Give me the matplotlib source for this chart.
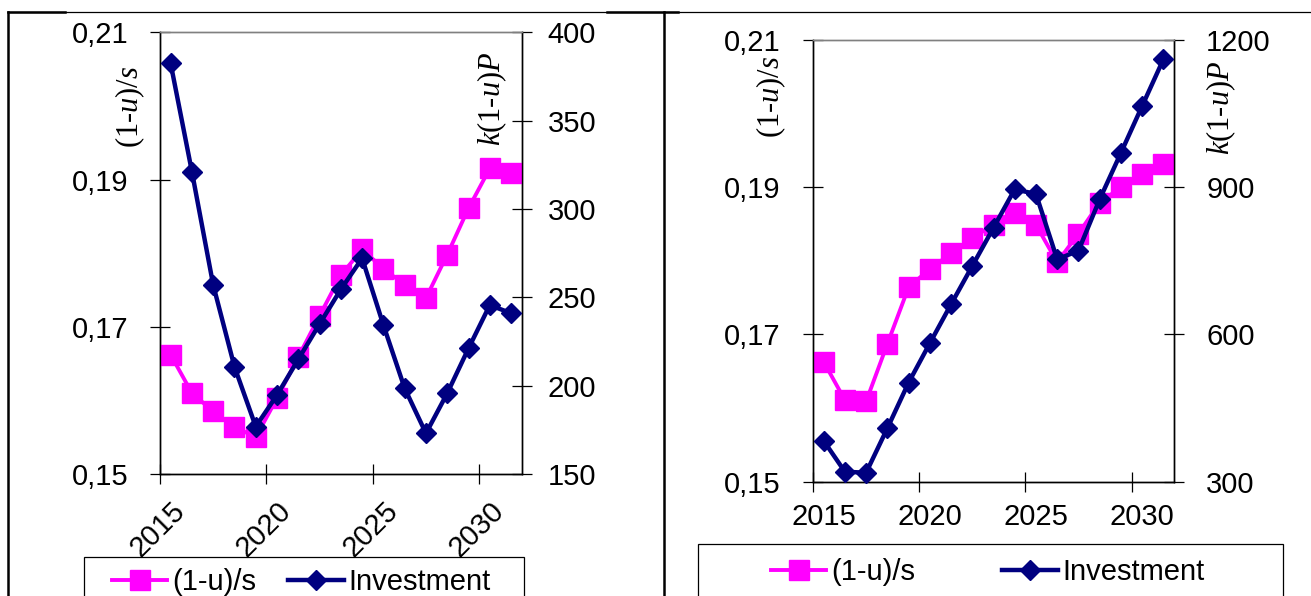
import matplotlib
matplotlib.use('Agg')
import matplotlib.pyplot as plt
from matplotlib.lines import Line2D
from matplotlib.patches import Rectangle

plt.rcParams['font.family'] = ['Liberation Sans', 'DejaVu Sans']
plt.rcParams['mathtext.fontset'] = 'custom'
plt.rcParams['mathtext.it'] = 'Liberation Serif:italic'
plt.rcParams['mathtext.rm'] = 'Liberation Serif'

# ---------------- data ----------------
years = list(range(2015, 2032))
left_ratio = [0.1662, 0.1610, 0.1585, 0.1564, 0.1550, 0.1603, 0.1659, 0.1715, 0.1770,
              0.1805, 0.1779, 0.1757, 0.1739, 0.1798, 0.1861, 0.1915, 0.1909]
left_invest = [382.4, 321.1, 257.0, 210.7, 176.8, 194.7, 214.9, 234.9, 254.5,
               272.1, 234.3, 198.5, 173.0, 195.7, 221.1, 245.6, 241.0]
right_ratio = [0.1663, 0.1611, 0.1609, 0.1687, 0.1764, 0.1789, 0.1810, 0.1831, 0.1849,
               0.1865, 0.1849, 0.1798, 0.1837, 0.1879, 0.1900, 0.1918, 0.1932]
right_invest = [383.5, 320.4, 318.3, 408.8, 501.7, 582.0, 661.4, 739.5, 817.5,
                895.8, 886.2, 753.0, 770.7, 875.4, 970.0, 1065.5, 1160.6]

ratio_ticks = [0.15, 0.17, 0.19, 0.21]
ratio_labels = ['0,15', '0,17', '0,19', '0,21']
left_inv_ticks = [150, 200, 250, 300, 350, 400]
right_inv_ticks = [300, 600, 900, 1200]
year_ticks = [2015, 2020, 2025, 2030]
year_labels = ['2015', '2020', '2025', '2030']
series_names = ['(1-u)/s', 'Investment']

MAGENTA = '#FF00FF'
NAVY = '#000080'
W, H = 1311, 596
FS = 21

fig = plt.figure(figsize=(W / 100, H / 100), dpi=100)
fig.patch.set_facecolor('white')


def px(x, y):
    return x / W, 1 - y / H


def panel(x0, x1, ytop, ybot, ratio, invest, inv_ticks, rotated, lpad_l, lpad_r, xpad):
    ax = fig.add_axes([x0 / W, 1 - ybot / H, (x1 - x0) / W, (ybot - ytop) / H])
    ax2 = ax.twinx()
    xs = [y + 0.5 for y in years]
    ax.plot(xs, ratio, color=MAGENTA, lw=2.8, marker='s', ms=14,
            mfc=MAGENTA, mec=MAGENTA, clip_on=False, zorder=3)
    ax2.plot(xs, invest, color=NAVY, lw=3.2, marker='D', ms=10,
             mfc=NAVY, mec=NAVY, clip_on=False, zorder=4)
    ax.set_xlim(2015, 2032)
    ax.set_ylim(ratio_ticks[0], ratio_ticks[-1])
    ax2.set_ylim(inv_ticks[0], inv_ticks[-1])
    ax.set_yticks(ratio_ticks, ratio_labels)
    ax2.set_yticks(inv_ticks, [str(v) for v in inv_ticks])
    ax.tick_params(axis='y', direction='inout', length=14, width=0.9,
                   pad=lpad_l, labelsize=FS, colors='black')
    ax2.tick_params(axis='y', direction='inout', length=14, width=0.9,
                    pad=lpad_r, labelsize=FS, colors='black')
    ax.set_xticks(year_ticks, [''] * len(year_ticks))
    ax.set_xticks([y + 0.5 for y in year_ticks], year_labels, minor=True)
    ax.tick_params(axis='x', which='major', direction='inout', length=14, width=0.9)
    ax.tick_params(axis='x', which='minor', length=0, pad=xpad, labelsize=FS)
    if rotated:
        for lbl in ax.get_xticklabels(minor=True):
            lbl.set_rotation(45)
            lbl.set_ha('right')
            lbl.set_va('top')
            lbl.set_rotation_mode('anchor')
    for a in (ax, ax2):
        for s in a.spines.values():
            s.set_linewidth(1.0)
            s.set_color('black')
        a.spines['top'].set_color('#808080')
    return ax, ax2


panel(160, 521.7, 32.3, 474, left_ratio, left_invest, left_inv_ticks, True, 16, 11.7, 16)
panel(813, 1174, 40, 481.7, right_ratio, right_invest, right_inv_ticks, False, 16.2, 16.2, 15)

# axis titles
for (x, y, s) in [(130, 107, '(1-$u$)/$s$'), (492, 99, '$k$(1-$u$)$P$'),
                  (771, 97, '(1-$u$)/$s$'), (1221, 108, '$k$(1-$u$)$P$')]:
    fig.text(*px(x, y), s, rotation=90, ha='center', va='center',
             fontsize=22, family='Liberation Serif')

# legends
handles = [Line2D([], [], color=MAGENTA, lw=2.8, marker='s', ms=14, mfc=MAGENTA, mec=MAGENTA),
           Line2D([], [], color=NAVY, lw=3.2, marker='D', ms=10, mfc=NAVY, mec=NAVY)]
fig.legend(handles, series_names, loc='center left', bbox_to_anchor=px(112, 582),
           frameon=False, ncol=2, handlelength=1.9, handletextpad=0.17,
           columnspacing=1.1, borderpad=0, borderaxespad=0, fontsize=FS)
fig.legend(handles, series_names, loc='center left', bbox_to_anchor=px(771, 572),
           frameon=False, ncol=2, handlelength=1.9, handletextpad=0.17,
           columnspacing=2.98, borderpad=0, borderaxespad=0, fontsize=FS)
for (lx0, lx1, ly) in [(84, 524, 557), (698, 1283, 544)]:
    fig.patches.append(Rectangle((lx0 / W, -0.1), (lx1 - lx0) / W, (1 - ly / H) + 0.1,
                                 transform=fig.transFigure, fill=False,
                                 edgecolor='black', lw=0.9))

# outer table frame
def fline(xa, ya, xb, yb, lw):
    fig.add_artist(Line2D([xa / W, xb / W], [1 - ya / H, 1 - yb / H],
                          transform=fig.transFigure, color='black', lw=lw))

fline(8, 12, 1311, 12, 0.9)
fline(8, 12, 65, 12, 1.8)
fline(607, 12, 678, 12, 1.8)
fline(8, 12, 8, 596, 1.8)
fline(664, 12, 664, 596, 1.8)

fig.savefig('out.png', dpi=100)
